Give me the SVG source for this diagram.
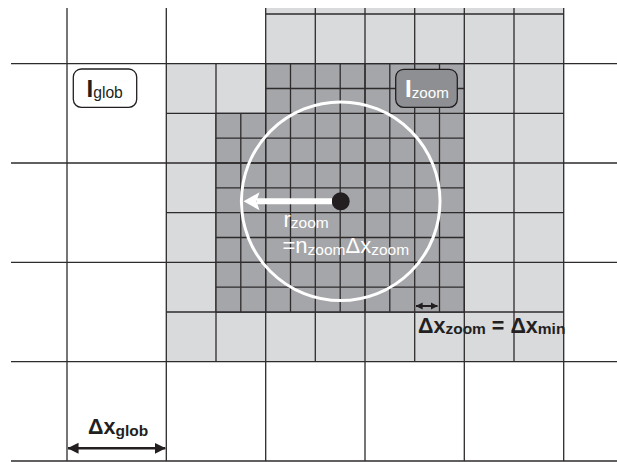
<svg xmlns="http://www.w3.org/2000/svg" width="617" height="462" viewBox="0 0 617 462">
<style>
.ln{stroke:#2e2b2c;stroke-width:1.3;fill:none}
.light{fill:#d9dadc}
.dark{fill:#a5a6a9}
.t{font-family:"Liberation Sans",Arial,sans-serif}
.b{font-weight:bold}
</style>
<defs>
<marker id="ahB" viewBox="0 0 12 12" refX="11.5" refY="6" markerWidth="11" markerHeight="12" markerUnits="userSpaceOnUse" orient="auto-start-reverse">
<path d="M0,0 L12,6 L0,12 Z" fill="#231f20"/>
</marker>
<marker id="ahS" viewBox="0 0 12 12" refX="11.5" refY="6" markerWidth="7" markerHeight="8" markerUnits="userSpaceOnUse" orient="auto-start-reverse">
<path d="M0,0 L12,6 L0,12 Z" fill="#231f20"/>
</marker>
</defs>
<rect width="617" height="462" fill="#ffffff"/>
<g id="grid">
<rect class="light" x="265.7" y="8" width="298" height="55.7"/>
<rect class="light" x="166.3" y="63.7" width="397.4" height="298"/>
<path class="ln" d="M315.3,8V361.7 M414.7,8V361.7 M514,8V361.7 M216,63.7V361.7 M265.7,14H563.7 M166.3,113.3H563.7 M166.3,212.7H563.7 M166.3,312H563.7"/>
<path class="dark" d="M265.7,63.7H464.3V312H216V113.3H265.7Z"/>
<path class="ln" d="M216,113.3V312 M240.8,113.3V312 M265.7,63.7V312 M290.5,63.7V312 M315.3,63.7V312 M340.2,63.7V312 M365,63.7V312 M389.8,63.7V312 M414.7,63.7V312 M439.5,63.7V312 M464.3,63.7V312 M265.7,63.7H464.3 M265.7,88.5H464.3 M216,113.3H464.3 M216,138.2H464.3 M216,163H464.3 M216,187.8H464.3 M216,212.7H464.3 M216,237.5H464.3 M216,262.3H464.3 M216,287.2H464.3 M216,312H464.3"/>
<path class="ln" d="M67,8V461 M166.3,8V461 M265.7,8V461 M365,8V461 M464.3,8V461 M563.7,8V461 M11,63.7H617 M11,163H617 M11,262.3H617 M11,361.7H617 M11,461H617"/>
</g>
<g id="zoom-circle">
<circle cx="340.7" cy="201.3" r="99.3" fill="none" stroke="#ffffff" stroke-width="3"/>
<circle cx="340.7" cy="201.3" r="9" fill="#231f20"/>
</g>
<g id="label-glob">
<rect x="73.3" y="69" width="63.4" height="38.3" rx="8" fill="#ffffff" stroke="#231f20" stroke-width="1.3"/>
<text class="t" x="86.5" y="96.7" fill="#231f20"><tspan class="b" font-size="24">I</tspan><tspan font-size="15.7" dy="1.3">glob</tspan></text>
</g>
<g id="label-zoom">
<rect x="395.7" y="69.3" width="61.6" height="38" rx="8" fill="#8e8f92" stroke="#231f20" stroke-width="1.3"/>
<text class="t" x="405" y="96.7" fill="#ffffff"><tspan class="b" font-size="24">I</tspan><tspan font-size="15.2" dy="1.3">zoom</tspan></text>
</g>
<g id="label-r">
<text class="t" x="283.5" y="226.7" fill="#ffffff"><tspan font-size="22">r</tspan><tspan font-size="15.5" dy="1.6">zoom</tspan></text>
<text class="t" x="282.5" y="253.3" fill="#ffffff"><tspan font-size="22">=n</tspan><tspan font-size="15.5" dy="1.6">zoom</tspan><tspan font-size="22" dy="-1.6">Δx</tspan><tspan font-size="15.5" dy="1.6">zoom</tspan></text>
</g>
<g id="label-dxzoom">
<text class="t b" x="418" y="332.7" fill="#231f20"><tspan font-size="21.5">Δx</tspan><tspan font-size="15.5" dy="1.6">zoom</tspan><tspan font-size="21.5" dy="-1.6"> = Δx</tspan><tspan font-size="15.5" dy="1.6">min</tspan></text>
</g>
<g id="label-dxglob">
<text class="t b" x="88" y="434" fill="#231f20"><tspan font-size="21.5">Δx</tspan><tspan font-size="15.5" dy="1.6">glob</tspan></text>
</g>
<g id="connectors">
<line x1="332" y1="201.3" x2="257" y2="201.3" stroke="#ffffff" stroke-width="6"/>
<path d="M243.5,201.3 L259.5,192.3 L256.5,201.3 L259.5,210.3 Z" fill="#ffffff"/>
<line x1="416" y1="306" x2="437.5" y2="306" stroke="#231f20" stroke-width="2" marker-start="url(#ahS)" marker-end="url(#ahS)"/>
<line x1="68" y1="448.3" x2="165.3" y2="448.3" stroke="#231f20" stroke-width="2.5" marker-start="url(#ahB)" marker-end="url(#ahB)"/>
</g>
</svg>
